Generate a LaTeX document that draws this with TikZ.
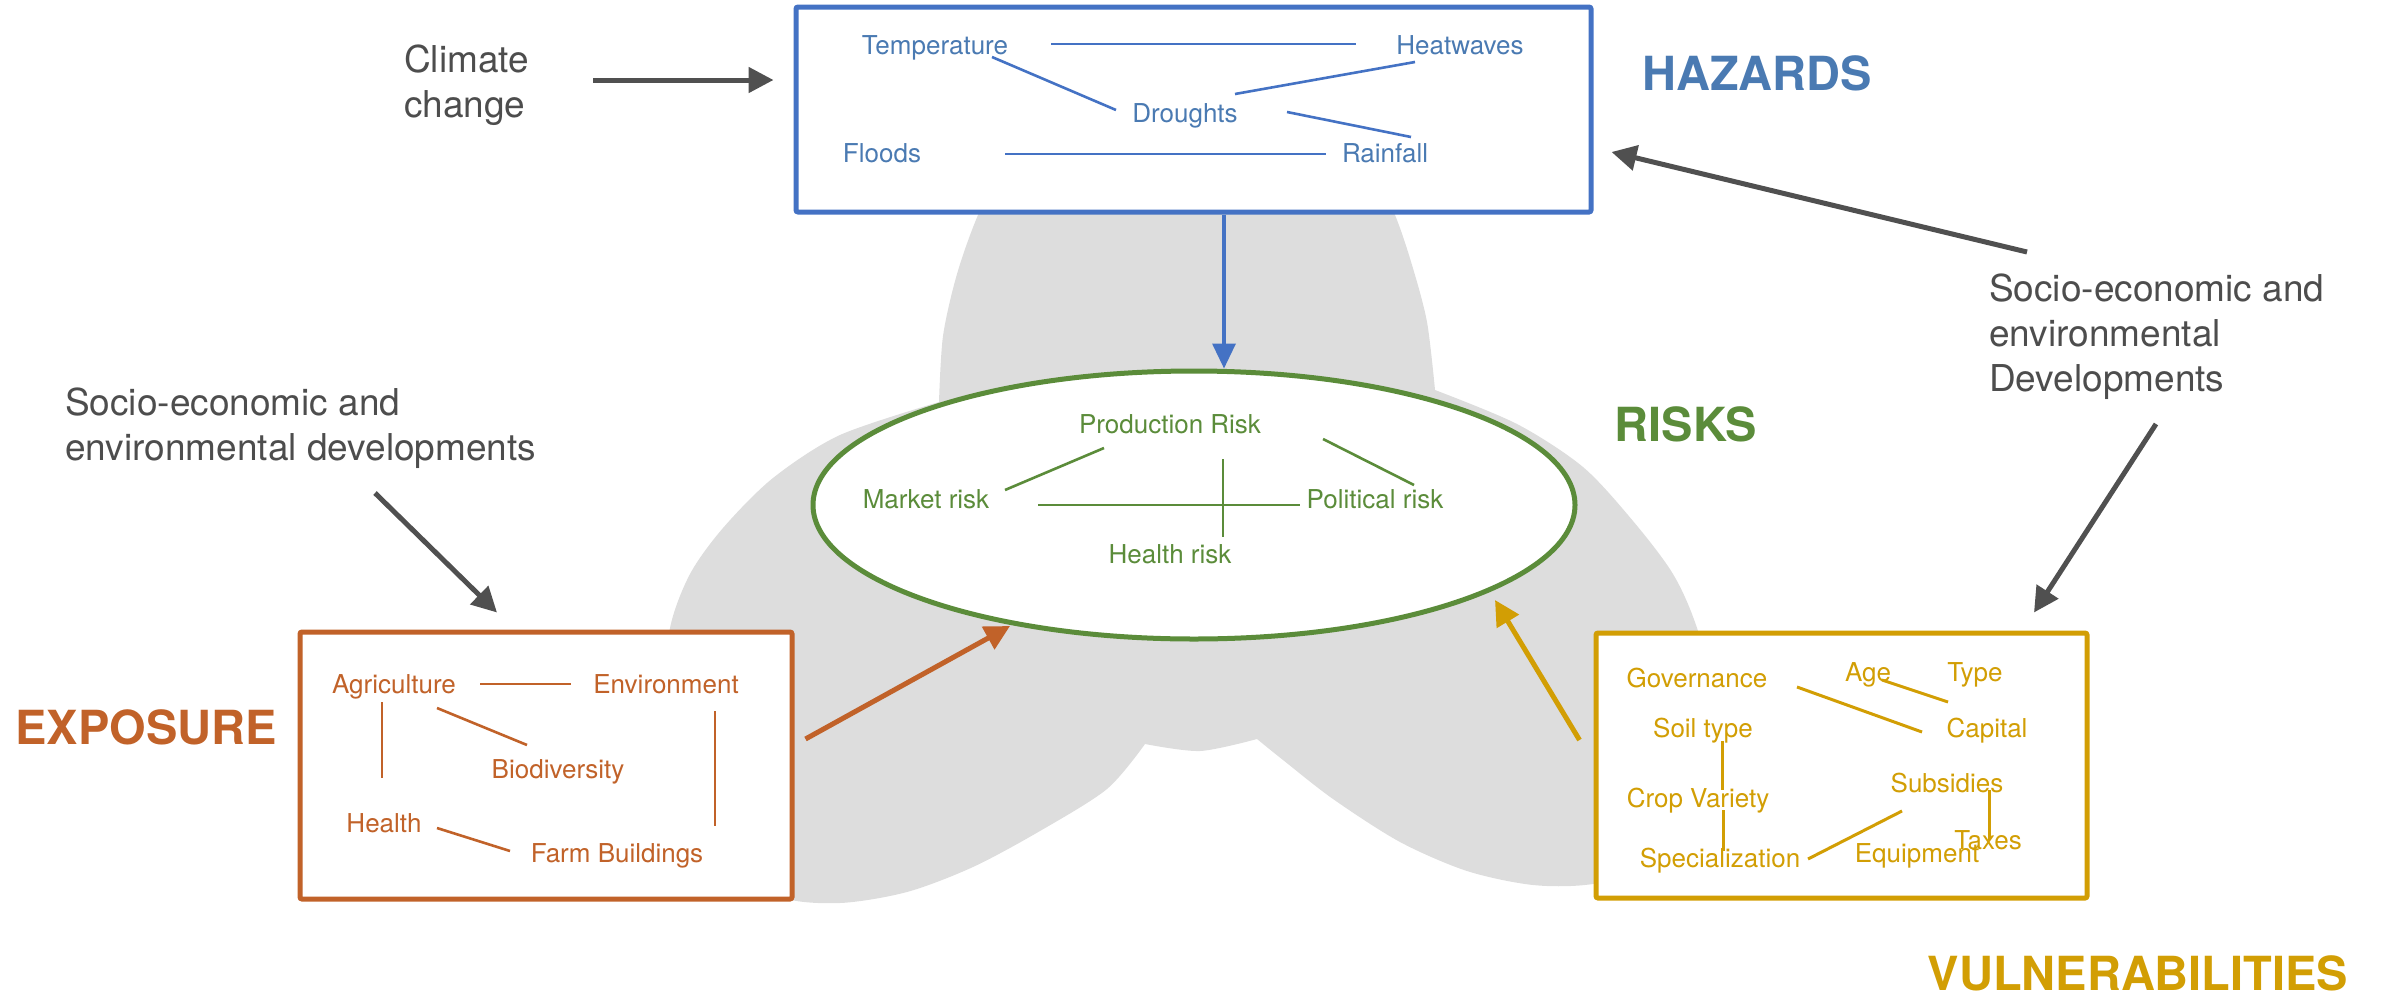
\documentclass[tikz,border=0pt]{standalone}
\usepackage{fontspec}
\setmainfont{TeX Gyre Heros}
\usetikzlibrary{shapes.geometric,arrows.meta}
\definecolor{hzline}{RGB}{68,114,196}
\definecolor{hztext}{RGB}{74,122,178}
\definecolor{rkgreen}{RGB}{91,140,58}
\definecolor{exorange}{RGB}{193,98,41}
\definecolor{vugold}{RGB}{210,158,4}
\definecolor{arrgray}{RGB}{80,80,80}
\definecolor{labgray}{RGB}{77,77,77}
\definecolor{petal}{RGB}{221,221,221}
\begin{document}
\begin{tikzpicture}[x=1pt,y=-1pt,
  txt/.style={inner sep=0pt, anchor=base, font=\fontsize{26}{31}\selectfont},
  big/.style={inner sep=0pt, anchor=base, font=\fontsize{47}{56}\selectfont\bfseries},
  glab/.style={inner sep=0pt, anchor=base west, align=left, text=labgray, font=\fontsize{37}{45}\selectfont},
  panel/.style={draw, fill=white, rounded corners=2pt, inner sep=0pt, line width=5pt},
  link/.style={line width=2.6pt},
  tip/.style={-{Triangle[length=25pt,width=25pt]}},
  garr/.style={draw=arrgray, line width=5pt, tip},
]
\useasboundingbox (0,0) rectangle (2382,996);
% grey three-lobed background
\fill[petal]
  plot[smooth] coordinates {(939,402) (943,336) (957,274) (978,215) (1010,150) (1080,105) (1187,95) (1295,105) (1365,150) (1395,215) (1412,265) (1427,322) (1435,390)}
  -- plot[smooth] coordinates {(1435,390) (1517,424) (1583,467) (1633,521) (1673,574) (1697,628) (1722,720) (1715,810) (1670,865) (1593,884) (1533,885) (1467,871) (1400,842) (1333,799) (1283,760) (1257,739)}
  -- plot[smooth] coordinates {(1257,739) (1200,751) (1145,744)}
  -- plot[smooth] coordinates {(1145,744) (1107,789) (1040,831) (973,867) (907,892) (840,903) (780,897) (720,860) (675,780) (665,700) (670,628) (690,574) (723,528) (773,478) (840,435) (939,402)}
  -- cycle;

% panels
\node[panel, draw=hzline, minimum width=795pt, minimum height=205pt] (hazbox) at (1193.5,109.5) {};
\node[panel, draw=exorange, minimum width=492pt, minimum height=267pt] (expbox) at (546,765.5) {};
\node[panel, draw=vugold, minimum width=491pt, minimum height=265pt] (vulbox) at (1841.5,765.5) {};
\node[draw=rkgreen, fill=white, ellipse, line width=5pt, minimum width=762pt, minimum height=268pt, inner sep=0pt] (riskell) at (1194,505) {};

% titles
\node[big, text=hztext] (hazlab) at (1757,90) {HAZARDS};
\node[big, text=rkgreen] (risklab) at (1686,441) {RISKS};
\node[big, text=exorange] (explab) at (146,744) {EXPOSURE};
\node[big, text=vugold] (vullab) at (2138,990) {VULNERABILITIES};

% grey labels (anchored at the baseline of their last line)
\node[glab] (climate) at (404,117) {Climate\\change};
\node[glab] (socleft) at (65,460) {Socio-economic and\\environmental developments};
\node[glab] (socright) at (1989,391) {Socio-economic and\\environmental\\Developments};

% hazards
\begin{scope}[every node/.style={txt, text=hztext}]
\node (temp) at (935,54) {Temperature};
\node (heat) at (1460,54) {Heatwaves};
\node (drou) at (1185,122) {Droughts};
\node (flood) at (882,162) {Floods};
\node (rain) at (1385,162) {Rainfall};
\end{scope}
\begin{scope}[draw=hzline, link]
\draw ([shift={(116,-10)}]temp.base) -- ([shift={(-104,-10)}]heat.base);
\draw ([shift={(57,3)}]temp.base) -- ([shift={(-69,-12)}]drou.base);
\draw ([shift={(50,-28)}]drou.base) -- ([shift={(-45,8)}]heat.base);
\draw ([shift={(102,-10)}]drou.base) -- ([shift={(26,-25)}]rain.base);
\draw ([shift={(123,-8)}]flood.base) -- ([shift={(-59,-8)}]rain.base);
\end{scope}

% risks
\begin{scope}[every node/.style={txt, text=rkgreen}]
\node (prod) at (1170,433) {Production Risk};
\node (market) at (926,508) {Market risk};
\node (polit) at (1375,508) {Political risk};
\node (hrisk) at (1170,563) {Health risk};
\end{scope}
\begin{scope}[draw=rkgreen, link]
\draw ([shift={(79,-18)}]market.base) -- ([shift={(-66,15)}]prod.base);
\draw ([shift={(153,6)}]prod.base) -- ([shift={(39,-23)}]polit.base);
\draw ([shift={(112,-3)}]market.base) -- ([shift={(-75,-3)}]polit.base);
\draw ([shift={(53,26)}]prod.base) -- ([shift={(53,-26)}]hrisk.base);
\end{scope}

% exposure
\begin{scope}[every node/.style={txt, text=exorange}]
\node (agri) at (394,693) {Agriculture};
\node (env) at (666,693) {Environment};
\node (bio) at (558,778) {Biodiversity};
\node (health) at (384,832) {Health};
\node (farm) at (617,862) {Farm Buildings};
\end{scope}
\begin{scope}[draw=exorange, link]
\draw ([shift={(86,-9)}]agri.base) -- ([shift={(-95,-9)}]env.base);
\draw ([shift={(43,15)}]agri.base) -- ([shift={(-31,-33)}]bio.base);
\draw ([shift={(-12,9)}]agri.base) -- ([shift={(-2,-54)}]health.base);
\draw ([shift={(53,-4)}]health.base) -- ([shift={(-107,-11)}]farm.base);
\draw ([shift={(49,18)}]env.base) -- ([shift={(98,-36)}]farm.base);
\end{scope}

% vulnerabilities
\begin{scope}[every node/.style={txt, text=vugold}]
\node (gov) at (1697,687) {Governance};
\node (age) at (1868,681) {Age};
\node (type) at (1975,681) {Type};
\node (soil) at (1703,737) {Soil type};
\node (capital) at (1987,737) {Capital};
\node (subs) at (1947,792) {Subsidies};
\node (crop) at (1698,807) {Crop Variety};
\node (taxes) at (1988,849) {Taxes};
\node (equip) at (1917,862) {Equipment};
\node (spec) at (1720,867) {Specialization};
\end{scope}
\begin{scope}[draw=vugold, link, line width=3pt]
\draw ([shift={(100,0)}]gov.base) -- ([shift={(-65,-5)}]capital.base);
\draw ([shift={(14,-1)}]age.base) -- ([shift={(-39,-35)}]capital.base);
\draw ([shift={(19,4)}]soil.base) -- ([shift={(24,-17)}]crop.base);
\draw ([shift={(25,3)}]crop.base) -- ([shift={(3,-16)}]spec.base);
\draw ([shift={(88,-8)}]spec.base) -- ([shift={(-45,19)}]subs.base);
\draw ([shift={(42,-2)}]subs.base) -- ([shift={(1,-9)}]taxes.base);
\end{scope}

% arrows
\draw[garr] ([shift={(189,-37)}]climate.base west) -- ([shift={(-20,-29.5)}]hazbox.west);
\draw[garr] ([shift={(310,33)}]socleft.base west) -- ([shift={(-49,-17)}]expbox.north);
\draw[garr] ([shift={(38,-139)}]socright.base west) -- ([shift={(18,42.5)}]hazbox.east);
\draw[garr] ([shift={(167,33)}]socright.base west) -- ([shift={(192.5,-18)}]vulbox.north);
\draw[draw=hzline, line width=3.5pt, -{Triangle[length=25pt,width=23pt]}] ([shift={(30.5,0)}]hazbox.south) -- ([shift={(30,0)}]riskell.north);
\draw[draw=exorange, line width=5pt, tip] ([shift={(11,-26.5)}]expbox.east) -- ([shift={(-184,121)}]riskell.center);
\draw[draw=vugold, line width=5pt, tip] ([shift={(-14,-25.5)}]vulbox.west) -- ([shift={(301,95)}]riskell.center);
\end{tikzpicture}
\end{document}
